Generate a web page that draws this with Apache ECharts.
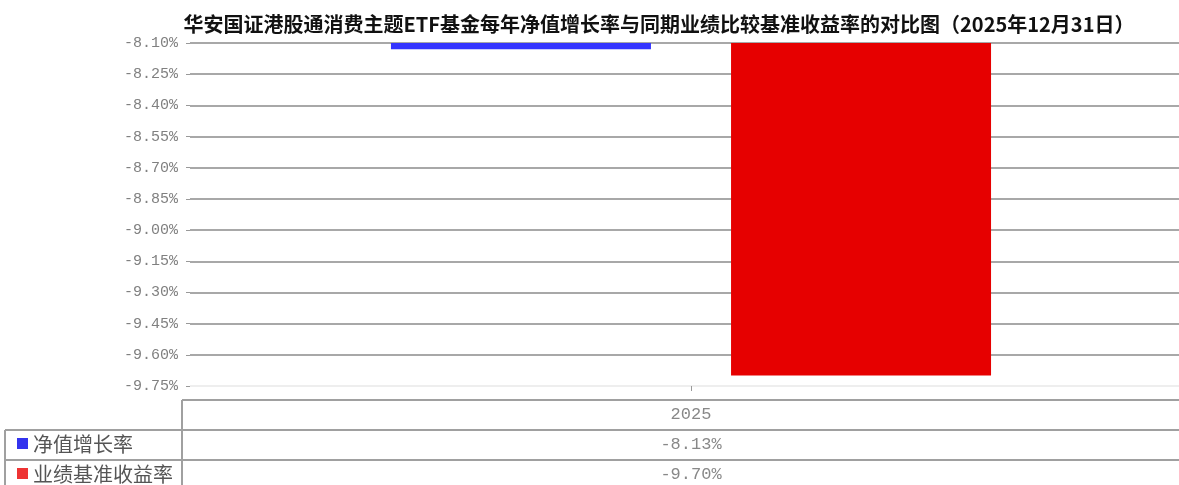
<!DOCTYPE html>
<html>
<head>
<meta charset="utf-8">
<script src="https://cdn.jsdelivr.net/npm/echarts@6/dist/echarts.min.js"></script>
<style>
  html, body { margin: 0; padding: 0; background: #fff; overflow: hidden; }
  #chart { width: 1193px; height: 485px; }
</style>
</head>
<body>
<div id="chart"></div>
<script>
const titleText = '华安国证港股通消费主题ETF基金每年净值增长率与同期业绩比较基准收益率的对比图（2025年12月31日）'
const categories = ['2025']
const seriesNames = ['净值增长率', '业绩基准收益率']
const navGrowth = [-8.13]
const benchmarkReturn = [-9.70]
const yMin = -9.75
const yMax = -8.10
const yStep = 0.15

// the plot runs a little past the right edge of the window, so the div is wider
const chart = echarts.init(document.getElementById('chart'))

// first split line (the bottom one) is light, the rest gray
const splitColors = []
for (let i = 0; i <= Math.round((yMax - yMin) / yStep); i++) {
  splitColors.push(i === 0 ? '#eeeeee' : '#a8a8a8')
}

const option = {
  animation: false,
  title: {
    text: titleText,
    left: 654,
    top: 9,
    textAlign: 'center',
    textStyle: {
      fontFamily: 'Noto Sans CJK SC',
      fontSize: 20,
      fontWeight: 'bold',
      color: '#111'
    }
  },
  grid: {
    left: 190,
    top: 43,
    right: 1,
    height: 343
  },
  xAxis: {
    type: 'category',
    data: categories,
    axisLine: { show: false },
    axisTick: {
      show: true,
      alignWithLabel: true,
      length: 5,
      lineStyle: { color: '#999' }
    },
    axisLabel: { show: false }
  },
  yAxis: {
    type: 'value',
    min: yMin,
    max: yMax,
    interval: yStep,
    axisLine: { show: false },
    axisTick: { show: true, length: 4, lineStyle: { color: '#999' } },
    axisLabel: {
      margin: 12,
      color: '#808080',
      fontFamily: 'Liberation Mono',
      fontSize: 15,
      formatter: v => v.toFixed(2) + '%'
    },
    splitLine: {
      lineStyle: { color: splitColors, width: 2 }
    }
  },
  series: [
    {
      name: seriesNames[0],
      type: 'bar',
      data: navGrowth,
      barWidth: 260,
      barGap: '30.8%',
      itemStyle: { color: '#3535ff' }
    },
    {
      name: seriesNames[1],
      type: 'bar',
      data: benchmarkReturn,
      barWidth: 260,
      barGap: '30.8%',
      itemStyle: { color: '#e60000' }
    }
  ]
}
chart.setOption(option)

// data table under the plot
const cx = chart.convertToPixel({ xAxisIndex: 0 }, categories[0])
const lineStyle = { stroke: '#a0a0a0', lineWidth: 2 }
const rowTop = [400, 430, 460]
const legendColors = ['#3333ee', '#ee3333']
const seriesData = [navGrowth, benchmarkReturn]
const graphic = [
  { type: 'line', shape: { x1: 182, y1: 400, x2: 1193, y2: 400 }, style: lineStyle },
  { type: 'line', shape: { x1: 5, y1: 430, x2: 1193, y2: 430 }, style: lineStyle },
  { type: 'line', shape: { x1: 5, y1: 460, x2: 1193, y2: 460 }, style: lineStyle },
  { type: 'line', shape: { x1: 182, y1: 400, x2: 182, y2: 485 }, style: lineStyle },
  { type: 'line', shape: { x1: 5, y1: 430, x2: 5, y2: 485 }, style: lineStyle },
  {
    type: 'text', x: cx, y: rowTop[0] + 14,
    style: { text: categories[0], fill: '#888', font: '17px "Liberation Mono"', align: 'center', verticalAlign: 'middle' }
  }
]
seriesNames.forEach((name, i) => {
  const y = rowTop[i + 1] + 14
  graphic.push({ type: 'rect', shape: { x: 17, y: y - 6, width: 11, height: 11 }, style: { fill: legendColors[i] } })
  graphic.push({
    type: 'text', x: 33, y: y,
    style: { text: name, fill: '#555', font: '20px "Noto Sans CJK SC"', verticalAlign: 'middle' }
  })
  graphic.push({
    type: 'text', x: cx, y: y,
    style: { text: seriesData[i][0].toFixed(2) + '%', fill: '#888', font: '17px "Liberation Mono"', align: 'center', verticalAlign: 'middle' }
  })
})
chart.setOption({ graphic: graphic })
</script>
</body>
</html>
